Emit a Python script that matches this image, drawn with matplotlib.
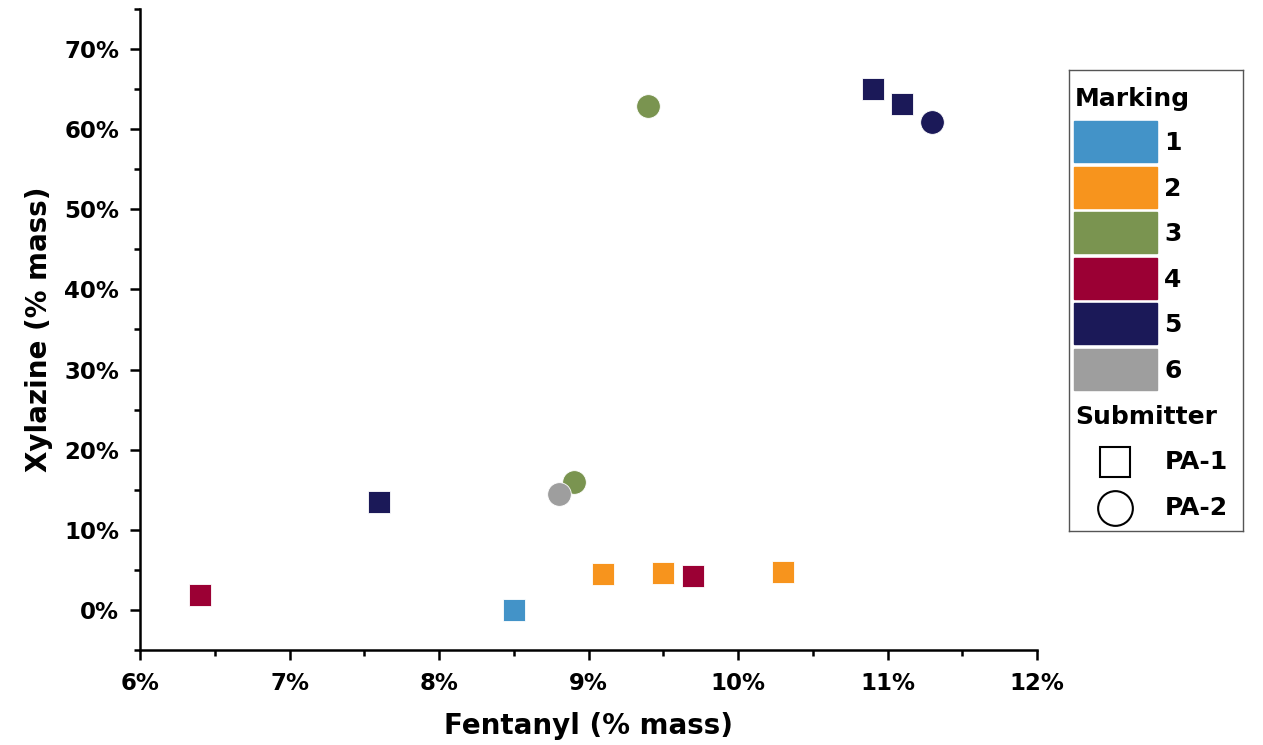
import numpy as np
import matplotlib
matplotlib.use("Agg")
from matplotlib import pyplot as plt
from matplotlib.patches import Rectangle
from matplotlib.lines import Line2D
from matplotlib.ticker import MultipleLocator, FuncFormatter

plt.rcParams['font.family'] = ['DejaVu Sans']

# data (% mass)
fentanyl = [8.5, 9.1, 9.5, 10.3, 6.4, 9.7, 7.6, 10.9, 11.1, 11.3, 9.4, 8.9, 8.8]
xylazine = [0.0, 4.5, 4.6, 4.7, 1.9, 4.2, 13.5, 65.0, 63.2, 60.9, 62.9, 16.0, 14.5]
marking = [1, 2, 2, 2, 4, 4, 5, 5, 5, 5, 3, 3, 6]
submitter = ['PA-1'] * 9 + ['PA-2'] * 4

marking_names = ['1', '2', '3', '4', '5', '6']
marking_colors = ['#4393C8', '#F7941D', '#7A9450', '#9B0034', '#1B1958', '#9E9E9E']
submitter_names = ['PA-1', 'PA-2']
submitter_markers = ['s', 'o']
marker_area = {'s': 250, 'o': 290}

fig = plt.figure(figsize=(12.63, 7.45), dpi=100)
ax = fig.add_axes([140 / 1263, 95 / 745, 897 / 1263, 641 / 745])

for i in range(len(fentanyl)):
    c = marking_colors[marking[i] - 1]
    m = submitter_markers[submitter_names.index(submitter[i])]
    ax.scatter(fentanyl[i], xylazine[i], s=marker_area[m], marker=m, color=c,
               edgecolors='white', linewidths=0.6, zorder=3)

ax.set_xlim(6, 12)
ax.set_ylim(-5, 75)
ax.xaxis.set_major_locator(MultipleLocator(1))
ax.xaxis.set_minor_locator(MultipleLocator(0.5))
ax.yaxis.set_major_locator(MultipleLocator(10))
ax.yaxis.set_minor_locator(MultipleLocator(5))
ax.set_yticks(np.arange(0, 71, 10))
ax.xaxis.set_major_formatter(FuncFormatter(lambda v, p: '%d%%' % round(v)))
ax.yaxis.set_major_formatter(FuncFormatter(lambda v, p: '%d%%' % round(v)))
for s in ['top', 'right']:
    ax.spines[s].set_visible(False)
for s in ['left', 'bottom']:
    ax.spines[s].set_linewidth(1.8)
ax.tick_params(which='major', direction='out', length=7, width=1.8, labelsize=16.5)
ax.tick_params(which='minor', direction='out', length=4, width=1.8)
ax.tick_params(axis='x', which='major', pad=9)
ax.tick_params(axis='y', which='major', pad=8)
for lab in ax.get_xticklabels() + ax.get_yticklabels():
    lab.set_fontweight('semibold')
ax.set_xlabel('Fentanyl (% mass)', fontsize=20, fontweight='semibold', labelpad=12)
ax.set_ylabel('Xylazine (% mass)', fontsize=20, fontweight='semibold', labelpad=8)

# legend panel drawn in pixel coordinates
lax = fig.add_axes([1069 / 1263, (745 - 531) / 745, 174 / 1263, 461 / 745])
lax.set_xlim(0, 174)
lax.set_ylim(461, 0)
lax.set_xticks([])
lax.set_yticks([])
for s in lax.spines.values():
    s.set_linewidth(1.0)
    s.set_color('#555555')
lax.text(6, 29, 'Marking', fontsize=18, fontweight='semibold', va='center')
for k, (name, col) in enumerate(zip(marking_names, marking_colors)):
    y0 = 51 + k * 45.5
    lax.add_patch(Rectangle((5, y0), 83, 41, color=col))
    lax.text(95, y0 + 22, name, fontsize=18, fontweight='semibold', va='center')
lax.text(6, 347, 'Submitter', fontsize=18, fontweight='semibold', va='center')
for k, (name, mk) in enumerate(zip(submitter_names, submitter_markers)):
    y = 392 + k * 46
    lax.add_line(Line2D([46], [y], marker=mk, markersize=22 if mk == 's' else 25,
                        markerfacecolor='white', markeredgecolor='black', markeredgewidth=1.5))
    lax.text(96, y, name, fontsize=18, fontweight='semibold', va='center')

fig.savefig('out.png', dpi=100)
